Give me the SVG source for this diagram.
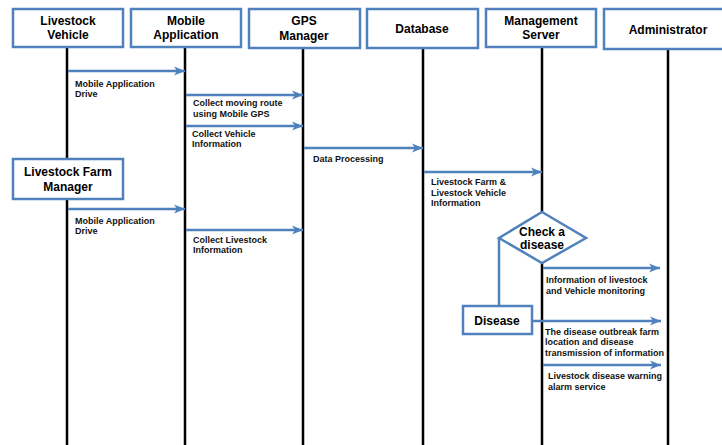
<svg xmlns="http://www.w3.org/2000/svg" width="722" height="445" viewBox="0 0 722 445">
<style>
.box{fill:#fff;stroke:#4F81BD;stroke-width:2.5}
.life{stroke:#000;stroke-width:2.5}
.msg{stroke:#4F81BD;stroke-width:2.5;fill:none}
.hd{font-family:"Liberation Sans",Arial,sans-serif;font-weight:bold;font-size:12px;fill:#000;text-anchor:middle}
.lb{font-family:"Liberation Sans",Arial,sans-serif;font-weight:bold;font-size:9px;fill:#111}
</style>
<defs>
<marker id="ah" markerUnits="userSpaceOnUse" markerWidth="12" markerHeight="10" refX="11" refY="5" orient="auto">
<path d="M0,0.5 L11,5 L0,9.5 L3,5 z" fill="#4F81BD"/>
</marker>
</defs>
<rect width="722" height="445" fill="#fff"/>
<g id="lifelines">
<line class="life" x1="67" y1="47" x2="67" y2="445"/>
<line class="life" x1="185" y1="47" x2="185" y2="445"/>
<line class="life" x1="303" y1="48" x2="303" y2="445"/>
<line class="life" x1="423" y1="48" x2="423" y2="445"/>
<line class="life" x1="542" y1="47" x2="542" y2="445"/>
<line class="life" x1="668" y1="49" x2="668" y2="445"/>
</g>
<g id="livestock-vehicle"><rect class="box" x="13" y="9" width="110" height="38"/><text class="hd" x="68" y="25">Livestock</text><text class="hd" x="68" y="39">Vehicle</text></g>
<g id="mobile-application"><rect class="box" x="131" y="9" width="110" height="38"/><text class="hd" x="186" y="25">Mobile</text><text class="hd" x="186" y="39">Application</text></g>
<g id="gps-manager"><rect class="box" x="249" y="9" width="111" height="39"/><text class="hd" x="304" y="25">GPS</text><text class="hd" x="304" y="40">Manager</text></g>
<g id="database"><rect class="box" x="367" y="9" width="111" height="39"/><text class="hd" x="422" y="33">Database</text></g>
<g id="management-server"><rect class="box" x="486" y="9" width="110" height="38"/><text class="hd" x="541" y="25">Management</text><text class="hd" x="541" y="39">Server</text></g>
<g id="administrator"><rect class="box" x="604" y="9" width="130" height="40"/><text class="hd" x="668" y="34">Administrator</text></g>
<g id="livestock-farm-manager"><rect class="box" x="13" y="159" width="110" height="40"/><text class="hd" x="68" y="176">Livestock Farm</text><text class="hd" x="68" y="191">Manager</text></g>
<g id="check-disease"><polygon class="box" points="542,212 586,238 542,263 499,238"/><text class="hd" x="542" y="236">Check a</text><text class="hd" x="542" y="249">disease</text></g>
<g id="disease"><rect class="box" x="463" y="306" width="69" height="28"/><text class="hd" x="497" y="325">Disease</text></g>
<g id="connectors">
<line class="msg" x1="68" y1="71" x2="185" y2="71" marker-end="url(#ah)"/>
<line class="msg" x1="186" y1="95" x2="303" y2="95" marker-end="url(#ah)"/>
<line class="msg" x1="186" y1="126" x2="303" y2="126" marker-end="url(#ah)"/>
<line class="msg" x1="304" y1="148" x2="423" y2="148" marker-end="url(#ah)"/>
<line class="msg" x1="424" y1="172" x2="542" y2="172" marker-end="url(#ah)"/>
<line class="msg" x1="68" y1="209" x2="185" y2="209" marker-end="url(#ah)"/>
<line class="msg" x1="186" y1="230" x2="303" y2="230" marker-end="url(#ah)"/>
<line class="msg" x1="499" y1="238" x2="499" y2="306"/>
<line class="msg" x1="543" y1="268" x2="660" y2="268" marker-end="url(#ah)"/>
<line class="msg" x1="532" y1="321" x2="661" y2="321" marker-end="url(#ah)"/>
<line class="msg" x1="543" y1="365" x2="661" y2="365" marker-end="url(#ah)"/>
</g>
<g id="labels">
<text class="lb" x="75" y="87">Mobile Application</text><text class="lb" x="75" y="97">Drive</text>
<text class="lb" x="193" y="106">Collect moving route</text><text class="lb" x="193" y="117">using Mobile GPS</text>
<text class="lb" x="192" y="137">Collect Vehicle</text><text class="lb" x="192" y="147">Information</text>
<text class="lb" x="313" y="162">Data Processing</text>
<text class="lb" x="431" y="185">Livestock Farm &amp;</text><text class="lb" x="431" y="196">Livestock Vehicle</text><text class="lb" x="431" y="206">Information</text>
<text class="lb" x="75" y="224">Mobile Application</text><text class="lb" x="75" y="234">Drive</text>
<text class="lb" x="193" y="243">Collect Livestock</text><text class="lb" x="193" y="253">Information</text>
<text class="lb" x="546" y="283">Information of livestock</text><text class="lb" x="546" y="294">and Vehicle monitoring</text>
<text class="lb" x="545" y="335">The disease outbreak farm</text><text class="lb" x="545" y="345">location and disease</text><text class="lb" x="545" y="356">transmission of information</text>
<text class="lb" x="548" y="379">Livestock disease warning</text><text class="lb" x="548" y="390">alarm service</text>
</g>
</svg>
